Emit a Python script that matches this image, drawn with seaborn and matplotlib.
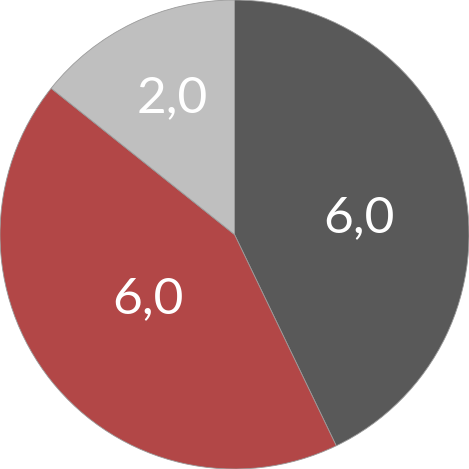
import numpy as np
import matplotlib
matplotlib.use("Agg")
import matplotlib.pyplot as plt
import seaborn as sns

# slice values, clockwise from 12 o'clock
values = [6.0, 6.0, 2.0]
labels = ["6,0", "6,0", "2,0"]

sns.set_style("white")
plt.rcParams["font.family"] = ["Lato", "DejaVu Sans"]

colors = sns.color_palette(["#595959", "#B24747", "#BFBFBF"])
label_radius = [0.535, 0.46, 0.64]
label_shift = [-5.5, -2.0, -1.0]  # degrees off the slice middle

fig = plt.figure(figsize=(4.69, 4.69), dpi=100)
ax = fig.add_axes([0, 0, 1, 1])

wedges, _ = ax.pie(values, colors=colors, startangle=90, counterclock=False,
                   radius=1.0, wedgeprops=dict(linewidth=0.6, edgecolor="#9a9a9a"))

for w, txt, r, s in zip(wedges, labels, label_radius, label_shift):
    mid = np.deg2rad((w.theta1 + w.theta2) / 2 + s)
    ax.text(r * np.cos(mid), r * np.sin(mid), txt, color="white",
            fontsize=37, ha="center", va="center")

ax.set_xlim(-1.0, 1.0)
ax.set_ylim(-1.0, 1.0)
ax.set_aspect("equal")
ax.axis("off")

plt.savefig("out.png", dpi=100, facecolor="white")
plt.close()
